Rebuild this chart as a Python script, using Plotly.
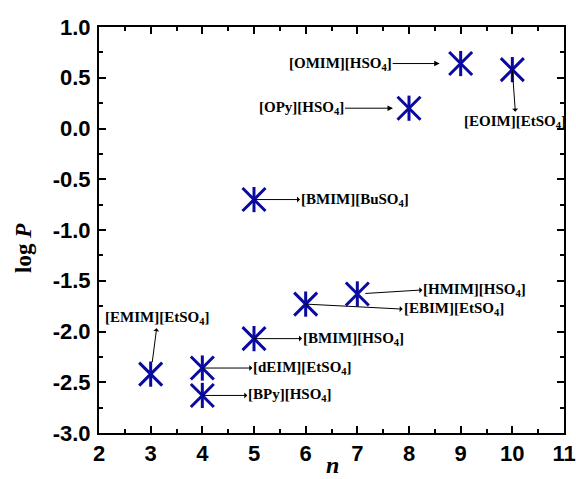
import plotly.graph_objects as go

# data
n_values = [3, 4, 4, 5, 5, 6, 7, 8, 9, 10]
log_p = [-2.42, -2.36, -2.63, -2.07, -0.70, -1.73, -1.63, 0.20, 0.64, 0.58]
labels = [
    "[EMIM][EtSO<sub>4</sub>]", "[dEIM][EtSO<sub>4</sub>]", "[BPy][HSO<sub>4</sub>]",
    "[BMIM][HSO<sub>4</sub>]", "[BMIM][BuSO<sub>4</sub>]", "[EBIM][EtSO<sub>4</sub>]",
    "[HMIM][HSO<sub>4</sub>]", "[OPy][HSO<sub>4</sub>]", "[OMIM][HSO<sub>4</sub>]",
    "[EOIM][EtSO<sub>4</sub>]",
]
x_ticks = [2, 3, 4, 5, 6, 7, 8, 9, 10, 11]
y_ticks = [-3.0, -2.5, -2.0, -1.5, -1.0, -0.5, 0.0, 0.5, 1.0]
x_title = "<b><i>n</i></b>"
y_title = "<b>log <i>P</i></b>"

# annotation styles: (ax, ay, xanchor, yanchor, arrowside, standoff)
label_style = [
    (6, -46, "center", "bottom", "start", 12),
    (50, 0, "left", "middle", "start", 0),
    (45, 0, "left", "middle", "start", 0),
    (48, 0, "left", "middle", "start", 0),
    (46, 0, "left", "middle", "start", 0),
    (97, 5, "left", "middle", "start", 0),
    (65, -4, "left", "middle", "start", 8),
    (-64, 0, "right", "middle", "end", 16),
    (-68, 0, "right", "middle", "end", 21),
    (3, 42, "center", "top", "start", 0),
]

MARK = "#0A0AA0"
fig = go.Figure()
for sym, sz in (("x-thin-open", 23), ("line-ns-open", 18)):
    fig.add_trace(go.Scatter(
        x=n_values, y=log_p, mode="markers", showlegend=False,
        marker=dict(symbol=sym, size=sz, color=MARK, line=dict(color=MARK, width=3)),
    ))

for xv, yv, txt, (ax, ay, xa, ya, side, so) in zip(n_values, log_p, labels, label_style):
    fig.add_annotation(
        x=xv, y=yv, xref="x", yref="y", text="<b>" + txt + "</b>",
        showarrow=True, ax=ax, ay=ay, xanchor=xa, yanchor=ya,
        arrowside=side, arrowhead=2, arrowsize=1.1, arrowwidth=1, arrowcolor="black",
        font=dict(family="Liberation Serif", size=15, color="black"),
        borderpad=0, standoff=so,
    )

# axis titles
fig.add_annotation(x=0.503, y=-0.080, xref="paper", yref="paper", text=x_title,
                   showarrow=False, xanchor="center", yanchor="middle",
                   font=dict(family="Liberation Serif", size=24, color="black"))
fig.add_annotation(x=-0.161, y=0.456, xref="paper", yref="paper", text=y_title,
                   showarrow=False, xanchor="center", yanchor="middle", textangle=-90,
                   font=dict(family="Liberation Serif", size=23, color="black"))

axis_common = dict(
    showline=True, linewidth=2, linecolor="black", mirror="ticks",
    ticks="inside", ticklen=7, tickwidth=2, tickcolor="black",
    showgrid=False, zeroline=False, automargin=False,
    tickfont=dict(family="Liberation Sans", size=22, color="black", weight="bold"),
)
fig.update_xaxes(
    range=[2, 11], tickvals=x_ticks, ticktext=[str(v) for v in x_ticks],
    minor=dict(ticks="inside", ticklen=4, tickwidth=2, dtick=0.5, tickcolor="black"),
    ticklabelstandoff=0,
    **axis_common,
)
fig.update_yaxes(
    range=[-3, 1], tickvals=y_ticks, ticktext=[f"{v:.1f}" for v in y_ticks],
    minor=dict(ticks="inside", ticklen=4, tickwidth=2, dtick=0.25, tickcolor="black"),
    ticklabelstandoff=2,
    **axis_common,
)
fig.update_layout(
    width=576, height=479, plot_bgcolor="white", paper_bgcolor="white",
    margin=dict(l=99, r=12, t=27, b=46, pad=0),
)
fig.write_html("out.html")
